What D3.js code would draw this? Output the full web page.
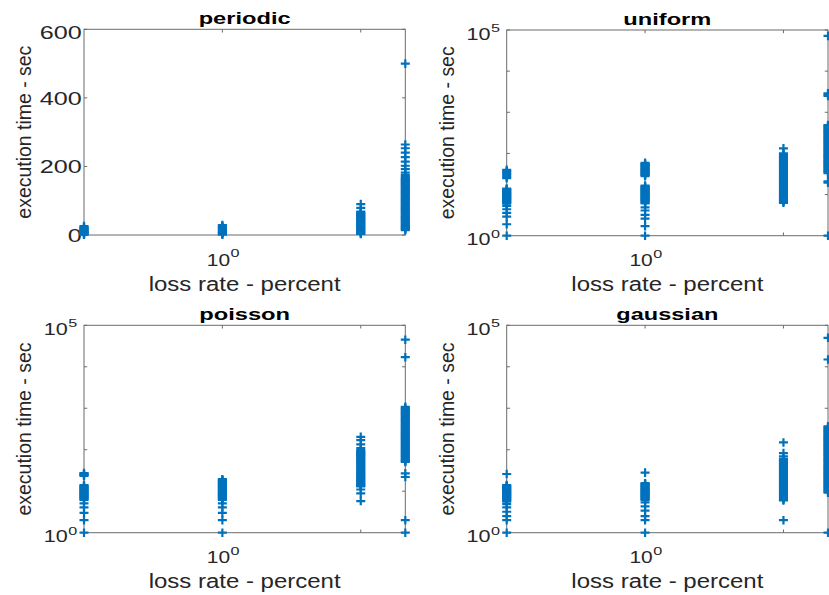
<!DOCTYPE html>
<html>
<head>
<meta charset="utf-8">
<script src="https://cdn.jsdelivr.net/npm/d3@7"></script>
<style>
  html, body { margin: 0; padding: 0; background: #fff; overflow: hidden; }
  svg { display: block; }
  text { font-family: "Liberation Sans", Arial, Helvetica, sans-serif; fill: #262626; }
</style>
</head>
<body>
<svg id="chart" width="829" height="595"></svg>
<script>
// ---------------- data ----------------
const lossRates = [0.5, 1, 2, 2.5];

const periodic = [
  [26, 23, 21, 19, 17, 15, 13, 11, 10, 8, 7, 5, 4, 2, 1],
  [29, 26, 24, 21, 19, 16, 14, 11, 9, 7, 5, 3, 1],
  [90, 79, 68, 65, 63, 60, 58, 55, 53, 50, 48, 45, 43, 40, 38, 35, 33, 30, 28, 25, 23, 20, 18, 15, 13, 10, 8, 5, 3],
  [500, 264, 253, 240, 227, 214, 202, 192, 182, 175, 170, 167, 164, 161, 158, 155, 152, 149, 146, 143, 140, 137, 134, 131, 128, 125, 122, 119, 116, 113, 110, 107, 104, 101, 98, 95, 92, 89, 86, 83, 80, 77, 74, 71, 68, 65, 62, 59, 56, 53, 50, 47, 44, 41, 38, 35, 32, 29, 26, 23, 20, 17, 14]
];
const uniform = [
  [40, 37, 34.5, 32, 29.5, 27, 25, 14, 13.5, 13, 12.5, 12, 11.5, 11, 10.6, 10.2, 9.8, 9.4, 9, 8.7, 8.3, 8, 7.7, 7.4, 7.1, 6.8, 6.5, 6.3, 6, 5.3, 4.4, 3.6, 2.9, 1.9, 1],
  [59, 56, 54, 51.5, 49.5, 47.5, 45.5, 43.5, 41.5, 40, 38, 36.5, 35, 33.5, 32, 30.5, 29.5, 28, 16.5, 15.8, 15.2, 14.6, 14, 13.4, 12.9, 12.4, 11.9, 11.4, 11, 10.5, 10.1, 9.7, 9.3, 8.9, 8.6, 8.2, 7.9, 7.6, 7.3, 7, 6.7, 6.4, 6.1, 4.9, 4.1, 3.2, 2.6, 1.7, 1],
  [133, 100, 94, 89, 84, 80, 75, 71, 67, 63, 59, 56, 53, 50, 47, 45, 42, 40, 37.5, 35.5, 33.5, 31.5, 29.5, 28, 26.5, 25, 23.5, 22.4, 21, 20, 18.8, 17.8, 16.8, 15.9, 15, 14.2, 13.4, 12.6, 11.9, 11.2, 10.6, 10, 9.4, 8.9, 8.4, 8, 7.5, 7.1, 6.7, 6.3],
  [72000, 2900, 2700, 2500, 490, 465, 440, 415, 390, 370, 350, 330, 310, 292, 275, 260, 245, 232, 220, 207, 195, 185, 175, 165, 155, 146, 138, 130, 123, 116, 110, 104, 98, 92, 87, 82, 78, 73, 69, 65, 62, 58, 55, 52, 49, 46, 44, 41, 39, 37, 35, 33, 21, 19.5, 1]
];
const poisson = [
  [27.5, 26.5, 25.5, 24.5, 23.5, 14, 13.5, 12.9, 12.4, 11.9, 11.4, 11, 10.5, 10.1, 9.7, 9.3, 8.9, 8.6, 8.2, 7.9, 7.6, 7.3, 7, 6.7, 6.4, 6.2, 5.1, 4.1, 3, 2, 1],
  [19.5, 18.7, 18, 17.3, 16.6, 15.9, 15.3, 14.7, 14.1, 13.5, 13, 12.5, 12, 11.5, 11, 10.5, 10.1, 9.7, 9.3, 8.9, 8.6, 8.2, 7.9, 7.6, 7.3, 7, 6.7, 6.4, 6.2, 5.1, 4.1, 3, 2, 1],
  [204, 170, 135, 110, 98, 93, 88, 83, 79, 75, 71, 67, 63, 59, 56, 53, 50, 47, 45, 42, 40, 37.5, 35.5, 33.5, 31.5, 29.5, 28, 26.5, 25, 23.5, 22.4, 21, 20, 18.8, 17.8, 16.8, 15.9, 15, 14.2, 13.5, 13, 11, 8.9, 5.8],
  [45000, 17000, 1080, 1020, 960, 910, 860, 810, 770, 730, 690, 650, 610, 575, 545, 515, 490, 460, 435, 410, 390, 365, 345, 327, 310, 292, 275, 260, 245, 232, 220, 207, 195, 185, 175, 165, 155, 146, 138, 130, 123, 116, 110, 104, 98, 92, 87, 82, 78, 73, 69, 65, 62, 58, 55, 53, 51, 27, 22, 2, 1]
];
const gaussian = [
  [26, 14, 13.5, 12.9, 12.4, 11.9, 11.4, 11, 10.5, 10.1, 9.7, 9.3, 8.9, 8.6, 8.2, 7.9, 7.6, 7.3, 7, 6.7, 6.4, 6.2, 5.9, 5.6, 4.9, 4.1, 3.2, 2.5, 2, 1],
  [28, 15.6, 15, 14.4, 13.8, 13.2, 12.6, 12.1, 11.6, 11.1, 10.6, 10.2, 9.8, 9.4, 9, 8.6, 8.2, 7.9, 7.6, 7.3, 7, 6.7, 6.4, 6.2, 5.4, 4.3, 3.4, 2.5, 2, 1],
  [150, 83, 69, 60, 57, 54, 51, 48, 45.5, 43, 40.5, 38.5, 36.5, 34.5, 32.5, 31, 29, 27.5, 26, 24.5, 23, 22, 20.8, 19.6, 18.5, 17.5, 16.5, 15.6, 14.8, 14, 13.2, 12.5, 11.8, 11.1, 10.5, 9.9, 9.3, 8.8, 8.3, 7.9, 7.4, 7, 6.6, 6.3, 6, 2],
  [50000, 15000, 365, 345, 325, 307, 290, 275, 260, 245, 230, 218, 205, 194, 183, 173, 163, 154, 145, 137, 130, 123, 116, 109, 103, 97, 92, 87, 82, 77, 73, 69, 65, 61, 58, 55, 52, 49, 46, 43.5, 41, 38.5, 36.5, 34.5, 32.5, 30.5, 29, 27.5, 26, 24.5, 23, 21.8, 20.5, 19.4, 18.3, 17.3, 16.3, 15.4, 14.5, 13.7, 13, 12.3, 11.6, 10.9, 10.3, 9.7, 9.2, 1]
];

const titles = ["periodic", "uniform", "poisson", "gaussian"];
const xTickValues = [1, 2];
const xTickExponents = [0, null];
const periodicTicks = [0, 200, 400, 600];
const logTicks = [1, 10, 100, 1000, 10000, 100000];
const logLabelExponents = {1: 0, 100000: 5};
const xLabel = "loss rate - percent";
const yLabel = "execution time - sec";

// ---------------- layout ----------------
const panels = [
  {title: titles[0], data: periodic, log: false, left: 84,    right: 405.3, top: 29.3,  bottom: 235,   tw: 92},
  {title: titles[1], data: uniform,  log: true,  left: 506.7, right: 828,   top: 30,    bottom: 235.7, tw: 88},
  {title: titles[2], data: poisson,  log: true,  left: 84,    right: 405.3, top: 325.3, bottom: 532.7, tw: 91},
  {title: titles[3], data: gaussian, log: true,  left: 506.7, right: 828,   top: 325.3, bottom: 532.7, tw: 102}
];

const blue = "#0072BD";
const axisColor = "#6b6b6b";
const svg = d3.select("#chart");

panels.forEach((p, pi) => {
  const g = svg.append("g");
  const x = d3.scaleLog().domain([0.5, 2.5]).range([p.left, p.right]);
  const y = p.log
    ? d3.scaleLog().domain([1, 1e5]).range([p.bottom, p.top])
    : d3.scaleLinear().domain([0, 600]).range([p.bottom, p.top]);

  // axes box
  g.append("rect")
    .attr("x", p.left).attr("y", p.top)
    .attr("width", p.right - p.left).attr("height", p.bottom - p.top)
    .attr("fill", "none").attr("stroke", axisColor).attr("stroke-width", 1);

  // x ticks (bottom and top, inward)
  const tl = 3.2;
  xTickValues.forEach(v => {
    const xx = x(v);
    g.append("line").attr("x1", xx).attr("x2", xx).attr("y1", p.bottom).attr("y2", p.bottom - tl)
      .attr("stroke", axisColor).attr("stroke-width", 1);
    g.append("line").attr("x1", xx).attr("x2", xx).attr("y1", p.top).attr("y2", p.top + tl)
      .attr("stroke", axisColor).attr("stroke-width", 1);
  });
  xTickValues.forEach((v, i) => {
    const e = xTickExponents[i];
    if (e === null) return;
    const xx = x(v);
    g.append("text").attr("x", xx + 7.7).attr("y", p.bottom + 30.6)
      .attr("text-anchor", "end").attr("font-size", 16)
      .attr("textLength", 23.3).attr("lengthAdjust", "spacingAndGlyphs").text("10");
    g.append("text").attr("x", xx + 8.2).attr("y", p.bottom + 22.3)
      .attr("font-size", 11.5)
      .attr("textLength", 9).attr("lengthAdjust", "spacingAndGlyphs").text(String(e));
  });

  // y ticks
  const yTicks = p.log ? logTicks : periodicTicks;
  yTicks.forEach(v => {
    const yy = y(v);
    g.append("line").attr("x1", p.left).attr("x2", p.left + tl).attr("y1", yy).attr("y2", yy)
      .attr("stroke", axisColor).attr("stroke-width", 1);
    g.append("line").attr("x1", p.right).attr("x2", p.right - tl).attr("y1", yy).attr("y2", yy)
      .attr("stroke", axisColor).attr("stroke-width", 1);
  });
  if (p.log) {
    yTicks.forEach(v => {
      if (!(v in logLabelExponents)) return;
      const yy = y(v);
      const base = yy + 9.5;
      g.append("text").attr("x", p.left - 16.2).attr("y", base)
        .attr("text-anchor", "end").attr("font-size", 16)
        .attr("textLength", 24).attr("lengthAdjust", "spacingAndGlyphs").text("10");
      g.append("text").attr("x", p.left - 15.8).attr("y", base - 7.5)
        .attr("font-size", 11.5)
        .attr("textLength", 9).attr("lengthAdjust", "spacingAndGlyphs").text(String(logLabelExponents[v]));
    });
  } else {
    yTicks.forEach(v => {
      const yy = y(v);
      const s = String(v);
      const top = Math.abs(yy - p.top) < 1;
      g.append("text").attr("x", p.left - 2.3).attr("y", yy + 7 + (top ? 3 : 0))
        .attr("text-anchor", "end").attr("font-size", 17.5)
        .attr("textLength", 14 * s.length).attr("lengthAdjust", "spacingAndGlyphs").text(s);
    });
  }

  // title
  const cx = (p.left + p.right) / 2;
  g.append("text").attr("x", cx).attr("y", p.top - 5.3)
    .attr("text-anchor", "middle").attr("font-size", 16.8).attr("font-weight", "bold")
    .style("fill", "#000")
    .attr("textLength", p.tw).attr("lengthAdjust", "spacingAndGlyphs").text(p.title);

  // x label
  g.append("text").attr("x", cx).attr("y", p.bottom + 55.6)
    .attr("text-anchor", "middle").attr("font-size", 19.5)
    .attr("textLength", 192).attr("lengthAdjust", "spacingAndGlyphs").text(xLabel);

  // y label
  const cy = (p.top + p.bottom) / 2;
  const lx = p.left - 53;
  g.append("text").attr("transform", `translate(${lx},${cy}) rotate(-90)`)
    .attr("text-anchor", "middle").attr("font-size", 19.5)
    .attr("textLength", 173).attr("lengthAdjust", "spacingAndGlyphs")
    .text(yLabel);

  // markers
  const pts = [];
  p.data.forEach((col, ci) => col.forEach(v => pts.push({x: lossRates[ci], y: v})));
  g.append("g").selectAll("path").data(pts).join("path")
    .attr("d", d => `M${x(d.x) - 4.5},${y(d.y)}H${x(d.x) + 4.5}M${x(d.x)},${y(d.y) - 4.3}V${y(d.y) + 4.3}`)
    .attr("stroke", blue).attr("stroke-width", 2.2).attr("fill", "none");
});
</script>
</body>
</html>
